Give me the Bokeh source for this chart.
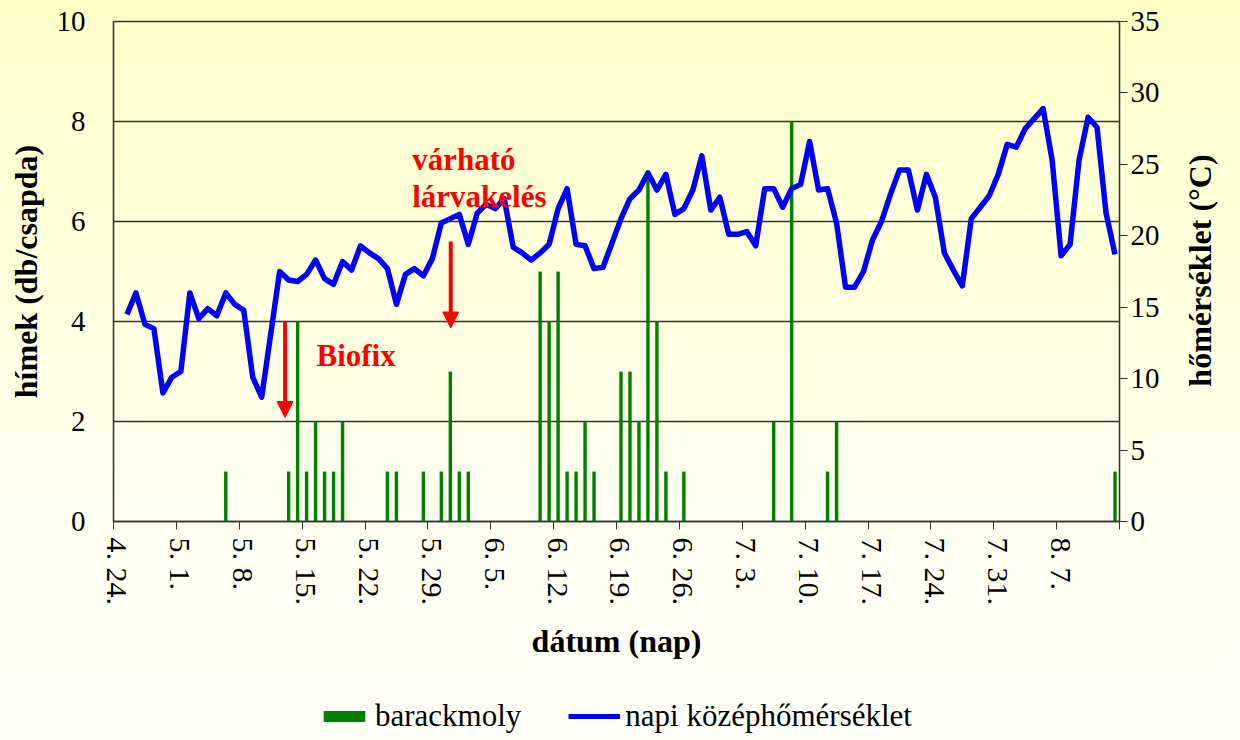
import math
from bokeh.plotting import figure
from bokeh.layouts import column, row
from bokeh.models import (Range1d, LinearAxis, FixedTicker, Arrow, NormalHead,
                          Label, Legend, LegendItem)
from bokeh.embed import file_html
from bokeh.resources import INLINE

# ---- data (day index 0 = 4.24.) ----
tick_labels = ["4. 24.", "5. 1.", "5. 8.", "5. 15.", "5. 22.", "5. 29.", "6. 5.",
               "6. 12.", "6. 19.", "6. 26.", "7. 3.", "7. 10.", "7. 17.", "7. 24.",
               "7. 31.", "8. 7."]

temp_days = list(range(1, 112))
temps = [14.5, 16.0, 13.8, 13.5, 9.0, 10.1, 10.5, 16.0, 14.2, 14.9,
         14.4, 16.0, 15.2, 14.8, 10.1, 8.7, 13.1, 17.5, 16.9, 16.8,
         17.3, 18.3, 17.0, 16.6, 18.2, 17.6, 19.3, 18.8, 18.4, 17.7,
         15.2, 17.3, 17.7, 17.2, 18.4, 20.9, 21.2, 21.5, 19.4, 21.6,
         22.2, 21.9, 22.6, 19.2, 18.8, 18.3, 18.8, 19.4, 21.9, 23.3,
         19.4, 19.3, 17.7, 17.8, 19.5, 21.2, 22.6, 23.2, 24.4, 23.2,
         24.3, 21.5, 21.9, 23.2, 25.6, 21.8, 22.7, 20.1, 20.1, 20.3,
         19.3, 23.3, 23.3, 22.0, 23.3, 23.6, 26.6, 23.2, 23.3, 20.9,
         16.4, 16.4, 17.5, 19.7, 21.0, 22.9, 24.6, 24.6, 21.8, 24.3,
         22.7, 18.8, 17.6, 16.5, 21.2, 22.0, 22.8, 24.3, 26.4, 26.2,
         27.5, 28.2, 28.9, 25.3, 18.6, 19.4, 25.3, 28.3, 27.6, 21.6,
         18.7]

moth_days = [12, 19, 20, 21, 22, 23, 24, 25, 30, 31, 34, 36, 37, 38, 39,
             47, 48, 49, 50, 51, 52, 53, 56, 57, 58, 59, 60, 61, 63,
             73, 75, 79, 80, 111]
moth_counts = [1, 1, 4, 1, 2, 1, 1, 2, 1, 1, 1, 1, 3, 1, 1,
               5, 4, 5, 1, 1, 2, 1, 3, 3, 2, 7, 4, 1, 1,
               2, 8, 1, 2, 1]

series_names = ["barackmoly", "napi középhőmérséklet"]

FONT = "Liberation Serif"
GRID = "#333333"
GREEN = "#008000"
BLUE = "#0000FF"

p = figure(width=1180, height=680, output_backend="svg", toolbar_location=None,
           x_range=Range1d(0, 112), y_range=Range1d(0, 10),
           min_border_left=113, min_border_right=61, min_border_top=21,
           min_border_bottom=159)
p.border_fill_color = None
p.background_fill_color = None
p.outline_line_color = GRID
p.outline_line_width = 1.3

p.extra_y_ranges = {"temp": Range1d(0, 35)}

# bars + line (category centres)
r_bar = p.vbar(x=[d + 0.5 for d in moth_days], top=moth_counts, width=0.38,
               fill_color=GREEN, line_color=GREEN, line_width=0)
r_line = p.line(x=[d + 0.5 for d in temp_days], y=temps, y_range_name="temp",
                line_color=BLUE, line_width=5.5, line_join="round")

# x axis
xa = p.xaxis[0]
xa.ticker = FixedTicker(ticks=[7 * k + 0.5 for k in range(len(tick_labels))],
                        minor_ticks=[7 * k for k in range(17)])
xa.major_label_overrides = {7 * k + 0.5: t for k, t in enumerate(tick_labels)}
xa.major_tick_out = 0
xa.major_tick_in = 0
xa.minor_tick_out = 8
xa.minor_tick_in = 0
xa.minor_tick_line_color = GRID
xa.axis_line_color = GRID
xa.axis_line_width = 1.3
xa.major_label_orientation = "vertical"
xa.major_label_standoff = 8
xa.major_label_text_font = FONT
xa.major_label_text_font_size = "30px"
xa.major_label_text_color = "black"
xa.axis_label = "dátum (nap)"
xa.axis_label_text_font = FONT
xa.axis_label_text_font_style = "bold"
xa.axis_label_text_font_size = "32px"
xa.axis_label_text_color = "black"
xa.axis_label_standoff = 15

p.xgrid.visible = False

# left axis
ya = p.yaxis[0]
ya.ticker = FixedTicker(ticks=[0, 2, 4, 6, 8, 10])
ya.major_tick_out = 0
ya.major_tick_in = 0
ya.minor_tick_out = 0
ya.minor_tick_in = 0
ya.axis_line_color = GRID
ya.axis_line_width = 1.3
ya.major_label_standoff = 28
ya.major_label_text_font = FONT
ya.major_label_text_font_size = "29px"
ya.major_label_text_color = "black"
ya.axis_label = "hímek (db/csapda)"
ya.axis_label_text_font = FONT
ya.axis_label_text_font_style = "bold"
ya.axis_label_text_font_size = "32px"
ya.axis_label_text_color = "black"
ya.axis_label_standoff = 10

p.ygrid.ticker = FixedTicker(ticks=[2, 4, 6, 8])
p.ygrid.grid_line_color = GRID
p.ygrid.grid_line_width = 1.3

# right axis
ra = LinearAxis(y_range_name="temp", ticker=FixedTicker(ticks=list(range(0, 40, 5))))
ra.major_tick_out = 8
ra.major_tick_in = 0
ra.minor_tick_out = 0
ra.minor_tick_in = 0
ra.major_tick_line_color = GRID
ra.axis_line_color = GRID
ra.axis_line_width = 1.3
ra.major_label_standoff = 3
ra.major_label_text_font = FONT
ra.major_label_text_font_size = "29px"
ra.major_label_text_color = "black"
p.add_layout(ra, "right")

# annotations
RED = "#FF0000"
for xs, ys, ye in [(19.1, 4.0, 2.08), (37.55, 5.6, 3.87)]:
    p.add_layout(Arrow(end=NormalHead(size=16, fill_color=RED, line_color=RED, line_width=1),
                       x_start=xs, y_start=ys, x_end=xs, y_end=ye,
                       line_color=RED, line_width=4))

for txt, lx, ly in [("Biofix", 22.6, 3.33), ("várható", 33.26, 7.25), ("lárvakelés", 33.26, 6.51)]:
    p.add_layout(Label(x=lx, y=ly, text=txt, text_color=RED, text_font=FONT,
                       text_font_style="bold", text_font_size="31px",
                       text_baseline="alphabetic", text_align="left"))

# strip on the right carrying the right-axis title (reads bottom-to-top)
rf = figure(width=60, height=680, output_backend="svg", toolbar_location=None,
            x_range=Range1d(0, 1), y_range=Range1d(0, 1),
            x_axis_type=None, y_axis_type=None,
            min_border_left=0, min_border_right=0, min_border_top=21, min_border_bottom=159)
rf.border_fill_color = None
rf.background_fill_color = None
rf.outline_line_color = None
rf.grid.visible = False
rf.add_layout(Label(x=0.33, y=0.502, text="hőmérséklet (°C)", angle=math.pi / 2,
                    text_font=FONT, text_font_style="bold", text_font_size="32px",
                    text_color="black", text_align="center", text_baseline="middle"))

# legend strip (separate small figure below the chart); its sample glyphs sit outside its range
lf = figure(width=1180, height=60, output_backend="svg", toolbar_location=None,
            x_range=Range1d(0, 1), y_range=Range1d(0, 1),
            x_axis_type=None, y_axis_type=None, min_border=0)
lf.border_fill_color = None
lf.background_fill_color = None
lf.outline_line_color = None
lf.grid.visible = False
lb = lf.vbar(x=[-5], top=[-5], width=0.1, fill_color=GREEN, line_color=GREEN, line_width=0)
ll = lf.line(x=[-5, -4], y=[-5, -5], line_color=BLUE, line_width=5)

legend = Legend(items=[LegendItem(label=series_names[0], renderers=[lb]),
                       LegendItem(label=series_names[1], renderers=[ll])],
                location=(205, 6), orientation="horizontal")
legend.background_fill_alpha = 0
legend.border_line_alpha = 0
legend.padding = 0
legend.margin = 0
legend.spacing = 47
legend.label_standoff = 5
legend.glyph_width = 52
legend.glyph_height = 14
legend.label_text_font = FONT
legend.label_text_font_size = "31px"
legend.label_text_color = "black"
lf.add_layout(legend)

page = row(column(p, lf, spacing=0), rf, spacing=0)
page.styles = {"background": "linear-gradient(to bottom, #FFFFC8 0%, #FFFFEE 65%, #FFFFFA 100%)"}

open("out.html", "w").write(file_html(page, INLINE))
